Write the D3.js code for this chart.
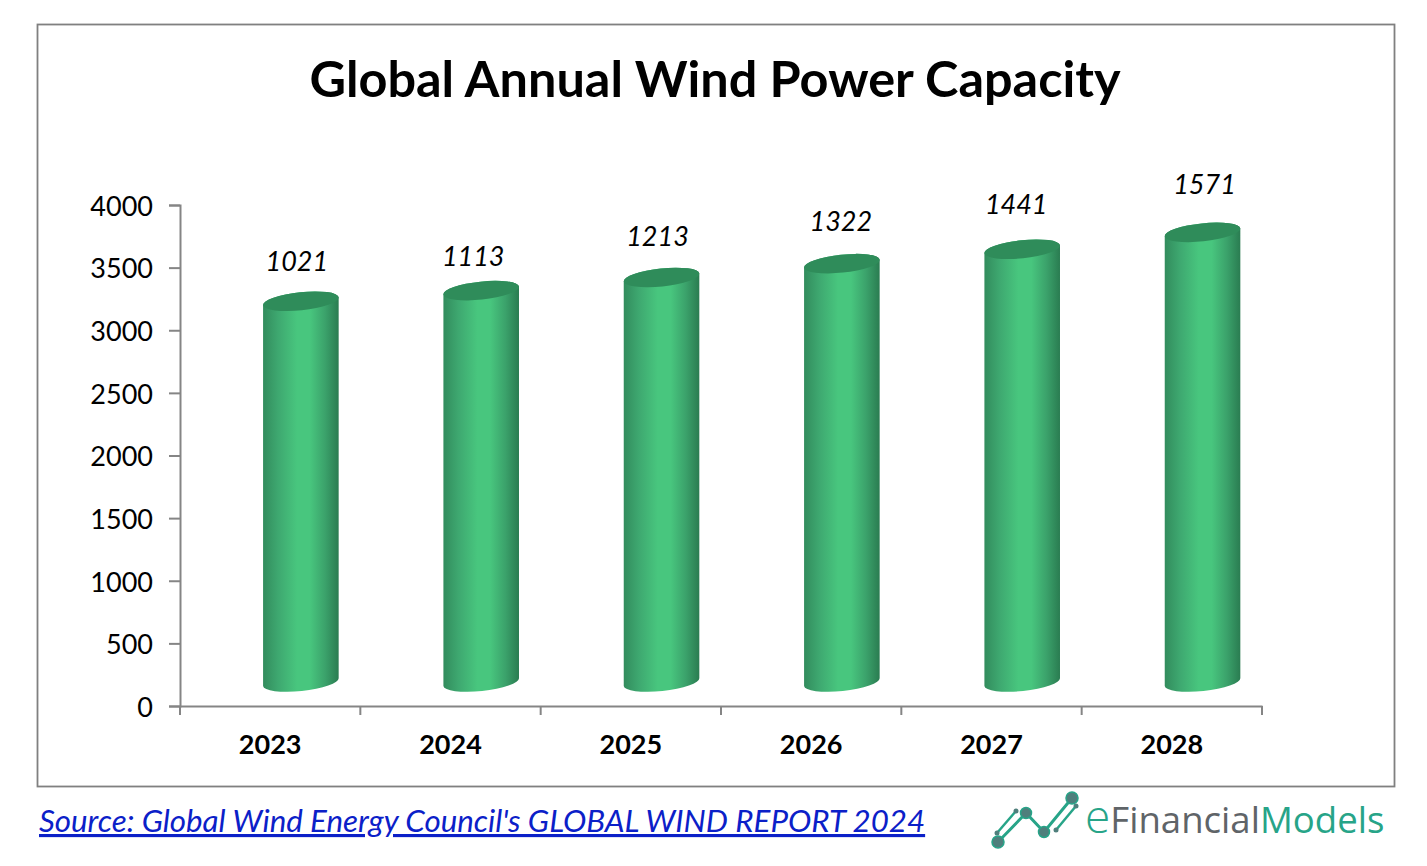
<!DOCTYPE html>
<html><head><meta charset="utf-8">
<script src="https://cdn.jsdelivr.net/npm/d3@7"></script>
<style>html,body{margin:0;padding:0;background:#fff}svg{display:block}text{font-family:Lato,"Open Sans",sans-serif}</style>
</head><body><div id="c"></div>
<script>
const years = ["2023","2024","2025","2026","2027","2028"];
const labels = [1021,1113,1213,1322,1441,1571];
const heights = [3040,3125,3230,3340,3455,3590];
const yTicks = [0,500,1000,1500,2000,2500,3000,3500,4000];
const labelNudgeX = [-4,-8,-4,-1,-6,2];
const labelNudgeY = [0,5,-1,-3,-5,-8];

const W=1427,H=866;
const svg=d3.select("#c").append("svg").attr("width",W).attr("height",H);
svg.append("rect").attr("x",37.5).attr("y",24.5).attr("width",1357).attr("height",762)
  .attr("fill","#fff").attr("stroke","#808080").attr("stroke-width",1.8);

svg.append("text").attr("x",715).attr("y",97).attr("text-anchor","middle")
  .attr("font-size",50.4).attr("font-weight",700).attr("fill","#000").text("Global Annual Wind Power Capacity");

const x=d3.scaleBand().domain(years).range([180,1262]);
const y=d3.scaleLinear().domain([0,4000]).range([706,205]);

const defs=svg.append("defs");
const grad=defs.append("linearGradient").attr("id","cyl").attr("x1",0).attr("x2",1).attr("y1",0).attr("y2",0);
[[0,"#328c5d"],[.2,"#3ea870"],[.45,"#48c67e"],[.62,"#48c67e"],[.82,"#3ba26b"],[1,"#2a7c51"]]
  .forEach(([o,c])=>grad.append("stop").attr("offset",o).attr("stop-color",c));

const depth=24, shift=30.7, rx=38, ry=9, tilt=-6;
const dx=rx*Math.cos(tilt*Math.PI/180), dy=rx*Math.sin(tilt*Math.PI/180);
const g=svg.append("g");
years.forEach((yr,i)=>{
  const cx=x(yr)+x.bandwidth()/2+shift;
  const yTop=y(heights[i])-depth, yBot=y(0)-depth;
  g.append("path").attr("fill","url(#cyl)")
    .attr("d",`M${cx-dx},${yTop-dy}L${cx-dx},${yBot-dy}A${rx},${ry} ${tilt} 0 0 ${cx+dx},${yBot+dy}L${cx+dx},${yTop+dy}A${rx},${ry} ${tilt} 0 0 ${cx-dx},${yTop-dy}Z`);
  g.append("ellipse").attr("cx",cx).attr("cy",yTop).attr("rx",rx).attr("ry",ry)
    .attr("transform",`rotate(${tilt} ${cx} ${yTop})`).attr("fill","#2f8c5a");
  svg.append("text").attr("x",cx+labelNudgeX[i]).attr("y",yTop-30+labelNudgeY[i])
    .attr("text-anchor","middle").attr("font-size",27).attr("font-style","italic").attr("fill","#000").text(labels[i]);
});

const axY=svg.append("g").attr("transform","translate(180,0)")
  .call(d3.axisLeft(y).tickValues(yTicks).tickSize(11).tickPadding(16).tickFormat(d3.format("d")));
const axX=svg.append("g").attr("transform","translate(0,706)")
  .call(d3.axisBottom(x).tickSize(0).tickPadding(29));
axX.selectAll(".tk").data(d3.range(7)).enter().append("line").attr("class","tk")
  .attr("x1",i=>180+i*x.bandwidth()).attr("x2",i=>180+i*x.bandwidth()).attr("y1",0).attr("y2",9);
[axY,axX].forEach(a=>{a.selectAll("line,path").attr("stroke","#858585").attr("stroke-width",2);a.select(".domain").attr("fill","none");});
axY.selectAll("text").attr("font-size",27).attr("fill","#000").attr("dy","0.38em").style("font-family","Lato");
axX.selectAll("text").attr("font-size",27).attr("font-weight",700).attr("fill","#000").style("font-family","Lato");

svg.append("text").attr("x",39).attr("y",832).attr("font-size",31.3).attr("font-style","italic")
  .attr("fill","#0b20c8").attr("text-decoration","underline")
  .text("Source: Global Wind Energy Council's GLOBAL WIND REPORT 2024");

// logo
const logo=svg.append("g");
const teal="#27a488", slate="#4f7f7c";
const trend=[[998,842],[1026,813],[1044,832],[1072,798]];
logo.append("path").attr("d",d3.line()(trend)).attr("fill","none").attr("stroke",teal).attr("stroke-width",3);
[[[997,833],[1016,811]],[[1056,830],[1076,806]]].forEach(s=>{
  logo.append("path").attr("d",d3.line()(s)).attr("fill","none").attr("stroke",teal).attr("stroke-width",2.5);
  s.forEach(p=>logo.append("circle").attr("cx",p[0]).attr("cy",p[1]).attr("r",2.5).attr("fill",slate));
});
trend.forEach((p,i)=>logo.append("circle").attr("cx",p[0]).attr("cy",p[1]).attr("r",i%3?5.5:6).attr("fill",slate).attr("stroke",teal).attr("stroke-width",1.5));
const lt=logo.append("text").attr("x",1085).attr("y",833).attr("font-size",36.6).style("font-family","'Open Sans'");
lt.append("tspan").attr("fill",teal).attr("font-size",46).attr("font-weight",300).text("e");
lt.append("tspan").attr("fill","#5f6468").text("Financial");
lt.append("tspan").attr("fill",teal).text("Models");
</script></body></html>
